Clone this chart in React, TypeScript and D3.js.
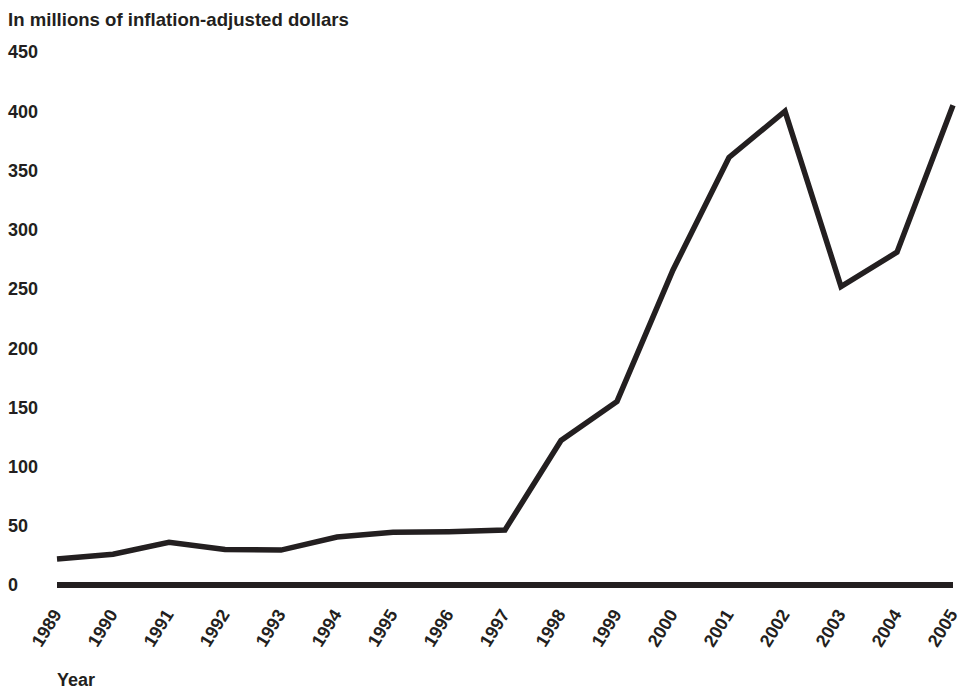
import React, { useEffect, useRef } from 'react';
import * as d3 from 'd3';

const years = [1989, 1990, 1991, 1992, 1993, 1994, 1995, 1996, 1997, 1998, 1999, 2000, 2001, 2002, 2003, 2004, 2005];
const values = [22, 26, 36, 30, 29.5, 40.5, 44.5, 45, 46.5, 122, 155, 266, 361, 400, 252, 281, 405];
const yTicks = [0, 50, 100, 150, 200, 250, 300, 350, 400, 450];

const WIDTH = 962;
const HEIGHT = 689;
const INK = '#231f20';
const FONT = '"Liberation Sans", Arial, Helvetica, sans-serif';

export default function App() {
  const svgRef = useRef<SVGSVGElement>(null);

  useEffect(() => {
    if (!svgRef.current) return;
    const svg = d3.select(svgRef.current);
    svg.selectAll('*').remove();

    const x = d3.scaleLinear().domain([1989, 2005]).range([57, 953]);
    const y = d3.scaleLinear().domain([0, 450]).range([585, 52]);

    // axis title
    svg.append('text')
      .attr('x', 8)
      .attr('y', 26)
      .attr('font-family', FONT)
      .attr('font-weight', 'bold')
      .attr('font-size', 18.6)
      .attr('fill', INK)
      .text('In millions of inflation-adjusted dollars');

    // y tick labels
    svg.append('g')
      .selectAll('text')
      .data(yTicks)
      .enter()
      .append('text')
      .attr('x', 8)
      .attr('y', d => y(d))
      .attr('dy', '0.36em')
      .attr('font-family', FONT)
      .attr('font-weight', 'bold')
      .attr('font-size', 18)
      .attr('fill', INK)
      .text(d => d);

    // zero baseline
    svg.append('line')
      .attr('x1', x(1989))
      .attr('x2', x(2005))
      .attr('y1', y(0))
      .attr('y2', y(0))
      .attr('stroke', INK)
      .attr('stroke-width', 6);

    // x tick labels, rotated
    svg.append('g')
      .selectAll('text')
      .data(years)
      .enter()
      .append('text')
      .attr('transform', d => `translate(${x(d)},${611}) rotate(-58)`)
      .attr('text-anchor', 'end')
      .attr('dy', '0.35em')
      .attr('font-family', FONT)
      .attr('font-weight', 'bold')
      .attr('font-size', 18)
      .attr('fill', INK)
      .text(d => d);

    svg.append('text')
      .attr('x', 57)
      .attr('y', 686)
      .attr('font-family', FONT)
      .attr('font-weight', 'bold')
      .attr('font-size', 18)
      .attr('fill', INK)
      .text('Year');

    const line = d3.line<number>()
      .x((_, i) => x(years[i]))
      .y(d => y(d));

    svg.append('path')
      .datum(values)
      .attr('d', line)
      .attr('fill', 'none')
      .attr('stroke', INK)
      .attr('stroke-width', 5.5)
      .attr('stroke-linejoin', 'miter');
  }, []);

  return (
    <div style={{ position: 'fixed', left: 0, top: 0 }}>
      <svg ref={svgRef} width={WIDTH} height={HEIGHT} style={{ display: 'block', background: '#fff' }} />
    </div>
  );
}
